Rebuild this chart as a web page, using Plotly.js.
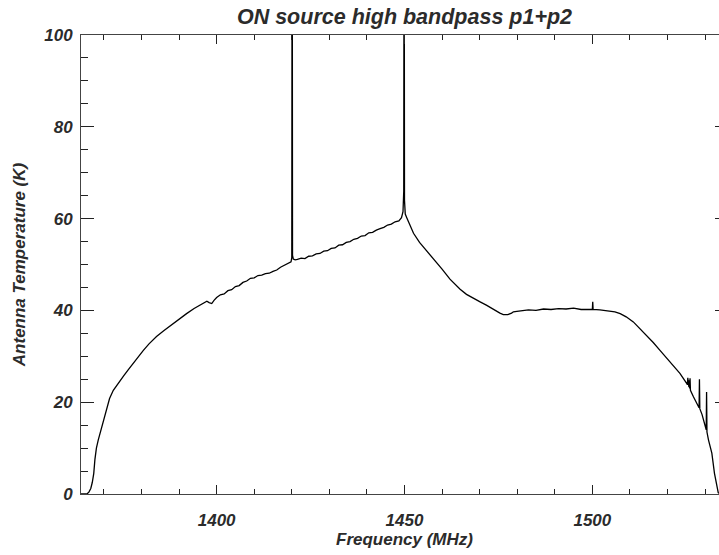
<!DOCTYPE html>
<html>
<head>
<meta charset="utf-8">
<script src="https://cdn.plot.ly/plotly-3.0.1.min.js"></script>
<style>
html,body{margin:0;padding:0;overflow:hidden;background:#fff;}
#chart{width:730px;height:555px;}
</style>
</head>
<body>
<div id="chart"></div>
<script>
// Frequency (MHz)
var freq = [
1363.9,1365.0,1365.6,1366.0,1366.5,1366.9,1367.3,1367.6,1368.0,1368.5,
1369.0,1369.8,1370.7,1371.5,1372.5,1373.8,1375.2,1376.5,1377.8,1379.2,
1380.5,1382.0,1384.0,1386.0,1388.5,1390.0,1392.0,1394.0,1395.6,1396.5,
1397.4,1398.0,1398.7,1399.3,1400.0,1401.0,1402.0,1403.0,1404.0,1405.0,
1406.0,1407.0,1408.0,1409.0,1410.0,1411.0,1412.0,1413.0,1414.0,1415.0,
1416.0,1417.0,1418.0,1419.0,1419.8,1420.0,1420.1,1420.2,1420.4,1420.9,
1421.5,1422.5,1423.5,1424.5,1425.5,1426.5,1427.5,1428.5,1429.5,1430.5,
1431.5,1432.5,1433.5,1434.5,1435.5,1436.5,1437.5,1438.5,1439.5,1440.5,
1441.5,1442.5,1443.5,1444.5,1445.5,1446.5,1447.5,1448.5,1449.2,1449.6,
1449.8,1449.9,1450.0,1450.2,1450.6,1451.5,1452.4,1454.0,1455.9,1458.0,
1460.0,1462.1,1464.8,1466.5,1468.3,1470.0,1471.9,1473.5,1475.4,1476.3,
1477.5,1478.5,1479.0,1479.9,1481.0,1483.0,1485.0,1487.0,1489.0,1491.0,
1493.0,1495.0,1497.0,1499.0,1500.0,1500.1,1500.2,1502.0,1504.7,1506.0,
1507.4,1509.0,1510.9,1512.5,1514.5,1516.2,1518.0,1519.5,1521.0,1523.3,
1525.1,1525.3,1525.4,1525.5,1525.6,1525.7,1525.8,1525.9,1526.0,1526.1,
1526.9,1527.8,1528.4,1528.5,1528.6,1529.2,1530.0,1530.3,1530.4,1530.5,
1530.9,1531.8,1532.5,1533.1,1533.5,1534.0,1536.1
];
// Antenna temperature (K)
var temp = [
0,0,0.1,0.4,1.2,2.5,4.5,7.5,10.0,11.8,
13.3,16.0,18.8,20.8,22.6,24.2,25.7,27.1,28.5,29.9,
31.3,32.7,34.3,35.6,37.2,38.1,39.3,40.4,41.2,41.6,
42.0,41.7,41.5,42.2,42.8,43.4,43.6,44.3,44.5,45.2,
45.4,46.1,46.4,47.0,47.1,47.6,47.7,48.0,48.1,48.5,
48.8,49.4,49.8,50.3,50.6,51.5,150,52.0,51.2,51.0,
51.1,51.4,51.3,51.8,51.9,52.3,52.4,52.9,53.0,53.5,
53.6,54.2,54.3,54.8,55.0,55.5,55.7,56.2,56.3,56.9,
57.0,57.5,57.8,58.1,58.6,58.8,59.3,59.5,60.2,61.5,
66.0,150,64.0,61.0,60.2,58.3,56.8,54.8,53.0,50.9,
49.0,46.8,44.6,43.5,42.6,41.9,41.1,40.3,39.4,39.1,
39.1,39.4,39.7,39.8,39.9,40.1,40.0,40.3,40.2,40.4,
40.3,40.5,40.2,40.3,40.2,41.9,40.2,40.1,39.9,39.7,
39.3,38.6,37.5,36.2,34.6,33.0,31.3,29.9,28.3,26.3,
24.1,23.8,25.3,23.6,25.1,23.3,24.8,23.0,25.2,22.6,
21.2,19.8,18.8,25.0,18.6,17.3,15.0,14.0,22.2,13.5,
11.8,8.9,4.5,1.6,0.3,0,0
];
var xRange = [1363.9, 1536.1];
var yRange = [0, 100];
var titleText = "ON source high bandpass p1+p2";
var xTitle = "Frequency (MHz)";
var yTitle = "Antenna Temperature (K)";

var fam = '"Liberation Sans", Arial, Helvetica, sans-serif';
var txtColor = '#2b2b2b';
function f(sz){ return {family: fam, size: sz, color: txtColor, weight: 'bold', style: 'italic'}; }

var trace = {
  x: freq, y: temp, type: 'scatter', mode: 'lines',
  line: {color: '#000', width: 1.3},
  hoverinfo: 'skip'
};

var layout = {
  width: 730, height: 555,
  margin: {l: 81, r: 2, t: 35, b: 61, pad: 0},
  paper_bgcolor: '#fff', plot_bgcolor: '#fff',
  showlegend: false,
  title: {text: titleText, font: f(21.5), x: 0.5, xref: 'paper', xanchor: 'center',
          y: 1 - 16/555, yref: 'container', yanchor: 'middle'},
  xaxis: {
    range: xRange, dtick: 50, tick0: 1400,
    ticks: 'inside', ticklen: 9, tickwidth: 1, tickcolor: '#222',
    minor: {dtick: 10, tick0: 1400, ticks: 'inside', ticklen: 5, tickwidth: 1, tickcolor: '#222', showgrid: false},
    showline: true, linecolor: '#444', linewidth: 1, mirror: 'ticks',
    showgrid: false, zeroline: false,
    tickfont: f(17), ticklabelstandoff: 11,
    title: {text: xTitle, font: f(17), standoff: 0}
  },
  yaxis: {
    range: yRange, dtick: 20, tick0: 0,
    ticks: 'inside', ticklen: 13, tickwidth: 1, tickcolor: '#222',
    minor: {dtick: 5, tick0: 0, ticks: 'inside', ticklen: 6.5, tickwidth: 1, tickcolor: '#222', showgrid: false},
    showline: true, linecolor: '#444', linewidth: 1, mirror: 'ticks',
    showgrid: false, zeroline: false,
    tickfont: f(17), ticklabelstandoff: 4,
    title: {text: yTitle, font: f(17), standoff: 14}
  }
};

Plotly.newPlot('chart', [trace], layout, {displayModeBar: false, staticPlot: true});
</script>
</body>
</html>
